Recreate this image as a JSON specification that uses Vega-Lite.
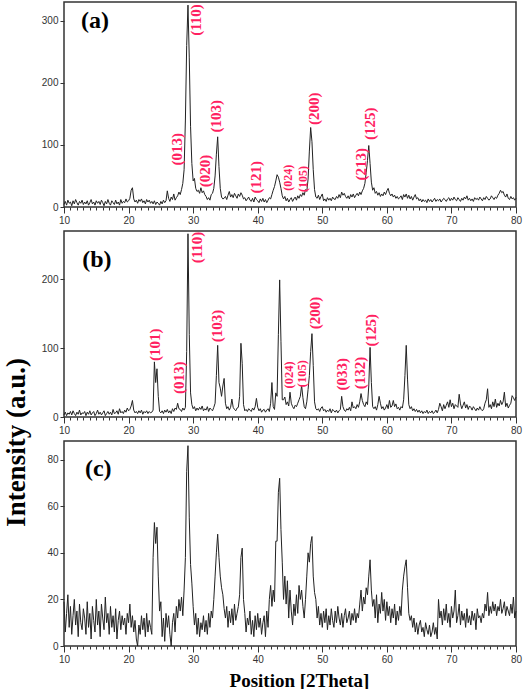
{
"$schema":"https://vega.github.io/schema/vega-lite/v6.json",
"background":"white",
"padding":{"left":1,"top":1,"right":10,"bottom":0},
"config":{
 "font":"Liberation Sans",
 "view":{"stroke":"#333","strokeWidth":1.5},
 "axis":{"grid":false,"domain":false,"labelFont":"Liberation Sans","labelFontSize":10,"labelColor":"#333","tickColor":"#333","tickWidth":1,"labelPadding":2}
},
"datasets":{
"xrd":[
{"t":10,"a":4,"b":3,"c":19},{"t":10.2,"a":9,"b":7,"c":6},{"t":10.4,"a":3,"b":2,"c":14},{"t":10.6,"a":11,"b":6,"c":22},{"t":10.8,"a":6,"b":4,"c":8},
{"t":11,"a":8,"b":8,"c":17},{"t":11.2,"a":2,"b":3,"c":5},{"t":11.4,"a":10,"b":9,"c":13},{"t":11.6,"a":5,"b":5,"c":20},{"t":11.8,"a":12,"b":2,"c":9},
{"t":12,"a":7,"b":7,"c":15},{"t":12.2,"a":3,"b":4,"c":4},{"t":12.4,"a":9,"b":10,"c":18},{"t":12.6,"a":6,"b":3,"c":10},{"t":12.8,"a":11,"b":6,"c":7},
{"t":13,"a":4,"b":5,"c":16},{"t":13.2,"a":8,"b":8,"c":12},{"t":13.4,"a":5,"b":2,"c":5},{"t":13.6,"a":10,"b":7,"c":19},{"t":13.8,"a":3,"b":4,"c":8},
{"t":14,"a":7,"b":9,"c":14},{"t":14.2,"a":12,"b":3,"c":3},{"t":14.4,"a":5,"b":6,"c":17},{"t":14.6,"a":8,"b":8,"c":11},{"t":14.8,"a":3,"b":2,"c":6},
{"t":15,"a":10,"b":5,"c":20},{"t":15.2,"a":6,"b":10,"c":9},{"t":15.4,"a":9,"b":4,"c":15},{"t":15.6,"a":4,"b":7,"c":4},{"t":15.8,"a":11,"b":3,"c":18},
{"t":16,"a":7,"b":6,"c":12},{"t":16.2,"a":2,"b":9,"c":7},{"t":16.4,"a":9,"b":2,"c":21},{"t":16.6,"a":5,"b":5,"c":10},{"t":16.8,"a":12,"b":8,"c":14},
{"t":17,"a":6,"b":4,"c":5},{"t":17.2,"a":3,"b":7,"c":17},{"t":17.4,"a":10,"b":3,"c":8},{"t":17.6,"a":7,"b":11,"c":13},{"t":17.8,"a":4,"b":5,"c":6},
{"t":18,"a":11,"b":6,"c":16},{"t":18.2,"a":5,"b":9,"c":3},{"t":18.4,"a":8,"b":4,"c":11},{"t":18.6,"a":3,"b":12,"c":15},{"t":18.8,"a":12,"b":6,"c":7},
{"t":19,"a":6,"b":8,"c":13},{"t":19.2,"a":9,"b":5,"c":9},{"t":19.4,"a":7,"b":10,"c":12},{"t":19.6,"a":13,"b":7,"c":5},{"t":19.8,"a":8,"b":13,"c":14},
{"t":20,"a":10,"b":9,"c":10},{"t":20.2,"a":14,"b":11,"c":18},{"t":20.4,"a":27,"b":16,"c":8},{"t":20.6,"a":31,"b":24,"c":13},{"t":20.8,"a":13,"b":10,"c":6},
{"t":21,"a":8,"b":6,"c":11},{"t":21.2,"a":11,"b":8,"c":3},{"t":21.4,"a":6,"b":5,"c":0},{"t":21.6,"a":12,"b":9,"c":9},{"t":21.8,"a":9,"b":6,"c":5},
{"t":22,"a":13,"b":10,"c":13},{"t":22.2,"a":7,"b":4,"c":7},{"t":22.4,"a":10,"b":8,"c":12},{"t":22.6,"a":5,"b":6,"c":4},{"t":22.8,"a":12,"b":9,"c":14},
{"t":23,"a":8,"b":5,"c":6},{"t":23.2,"a":11,"b":8,"c":11},{"t":23.4,"a":6,"b":6,"c":8},{"t":23.6,"a":9,"b":7,"c":5},{"t":23.8,"a":5,"b":10,"c":38},
{"t":24,"a":10,"b":80,"c":53},{"t":24.2,"a":4,"b":50,"c":44},{"t":24.4,"a":8,"b":70,"c":51},{"t":24.6,"a":6,"b":30,"c":30},{"t":24.8,"a":3,"b":8,"c":15},
{"t":25,"a":9,"b":6,"c":19},{"t":25.2,"a":5,"b":9,"c":4},{"t":25.4,"a":11,"b":5,"c":12},{"t":25.6,"a":7,"b":10,"c":2},{"t":25.8,"a":10,"b":7,"c":14},
{"t":26,"a":26,"b":11,"c":8},{"t":26.2,"a":14,"b":6,"c":13},{"t":26.4,"a":9,"b":9,"c":5},{"t":26.6,"a":16,"b":5,"c":0},{"t":26.8,"a":12,"b":12,"c":10},
{"t":27,"a":21,"b":8,"c":14},{"t":27.2,"a":11,"b":13,"c":6},{"t":27.4,"a":15,"b":11,"c":17},{"t":27.6,"a":18,"b":20,"c":12},{"t":27.8,"a":24,"b":12,"c":20},
{"t":28,"a":20,"b":11,"c":15},{"t":28.2,"a":28,"b":8,"c":21},{"t":28.4,"a":38,"b":13,"c":13},{"t":28.6,"a":60,"b":10,"c":24},{"t":28.8,"a":140,"b":14,"c":38},
{"t":29,"a":260,"b":95,"c":75},{"t":29.2,"a":325,"b":266,"c":86},{"t":29.4,"a":240,"b":120,"c":55},{"t":29.6,"a":130,"b":35,"c":35},{"t":29.8,"a":70,"b":18,"c":27},
{"t":30,"a":42,"b":12,"c":17},{"t":30.2,"a":46,"b":15,"c":9},{"t":30.4,"a":30,"b":9,"c":14},{"t":30.6,"a":25,"b":13,"c":5},{"t":30.8,"a":27,"b":10,"c":12},
{"t":31,"a":22,"b":14,"c":4},{"t":31.2,"a":31,"b":11,"c":10},{"t":31.4,"a":23,"b":16,"c":7},{"t":31.6,"a":26,"b":9,"c":13},{"t":31.8,"a":20,"b":12,"c":6},
{"t":32,"a":17,"b":10,"c":11},{"t":32.2,"a":12,"b":15,"c":5},{"t":32.4,"a":15,"b":8,"c":14},{"t":32.6,"a":11,"b":13,"c":8},{"t":32.8,"a":20,"b":11,"c":15},
{"t":33,"a":22,"b":9,"c":12},{"t":33.2,"a":30,"b":14,"c":20},{"t":33.4,"a":50,"b":20,"c":30},{"t":33.6,"a":85,"b":60,"c":40},{"t":33.8,"a":113,"b":104,"c":48},
{"t":34,"a":65,"b":50,"c":38},{"t":34.2,"a":30,"b":42,"c":30},{"t":34.4,"a":16,"b":30,"c":25},{"t":34.6,"a":13,"b":45,"c":22},{"t":34.8,"a":14,"b":56,"c":16},
{"t":35,"a":17,"b":20,"c":12},{"t":35.2,"a":12,"b":12,"c":17},{"t":35.4,"a":19,"b":15,"c":8},{"t":35.6,"a":25,"b":10,"c":15},{"t":35.8,"a":16,"b":14,"c":10},
{"t":36,"a":20,"b":26,"c":16},{"t":36.2,"a":15,"b":14,"c":9},{"t":36.4,"a":22,"b":11,"c":18},{"t":36.6,"a":18,"b":9,"c":11},{"t":36.8,"a":14,"b":13,"c":14},
{"t":37,"a":21,"b":14,"c":17},{"t":37.2,"a":17,"b":30,"c":22},{"t":37.4,"a":23,"b":107,"c":38},{"t":37.6,"a":19,"b":78,"c":42},{"t":37.8,"a":13,"b":18,"c":20},
{"t":38,"a":15,"b":9,"c":14},{"t":38.2,"a":10,"b":11,"c":6},{"t":38.4,"a":13,"b":8,"c":12},{"t":38.6,"a":16,"b":12,"c":9},{"t":38.8,"a":11,"b":10,"c":15},
{"t":39,"a":9,"b":8,"c":5},{"t":39.2,"a":14,"b":13,"c":11},{"t":39.4,"a":8,"b":10,"c":4},{"t":39.6,"a":16,"b":15,"c":13},{"t":39.8,"a":12,"b":27,"c":7},
{"t":40,"a":10,"b":14,"c":14},{"t":40.2,"a":7,"b":9,"c":8},{"t":40.4,"a":13,"b":12,"c":12},{"t":40.6,"a":9,"b":7,"c":5},{"t":40.8,"a":14,"b":10,"c":10},
{"t":41,"a":8,"b":11,"c":13},{"t":41.2,"a":12,"b":7,"c":4},{"t":41.4,"a":7,"b":10,"c":15},{"t":41.6,"a":11,"b":12,"c":8},{"t":41.8,"a":15,"b":8,"c":20},
{"t":42,"a":13,"b":20,"c":26},{"t":42.2,"a":20,"b":50,"c":17},{"t":42.4,"a":27,"b":15,"c":24},{"t":42.6,"a":33,"b":11,"c":19},{"t":42.8,"a":42,"b":35,"c":45},
{"t":43,"a":52,"b":30,"c":45},{"t":43.2,"a":48,"b":120,"c":66},{"t":43.4,"a":40,"b":199,"c":72},{"t":43.6,"a":30,"b":110,"c":50},{"t":43.8,"a":18,"b":25,"c":36},
{"t":44,"a":13,"b":25,"c":20},{"t":44.2,"a":17,"b":29,"c":30},{"t":44.4,"a":10,"b":18,"c":18},{"t":44.6,"a":14,"b":22,"c":28},{"t":44.8,"a":8,"b":16,"c":12},
{"t":45,"a":12,"b":36,"c":24},{"t":45.2,"a":15,"b":20,"c":15},{"t":45.4,"a":9,"b":15,"c":9},{"t":45.6,"a":13,"b":12,"c":18},{"t":45.8,"a":16,"b":17,"c":13},
{"t":46,"a":11,"b":15,"c":22},{"t":46.2,"a":18,"b":20,"c":14},{"t":46.4,"a":14,"b":25,"c":26},{"t":46.6,"a":20,"b":30,"c":20},{"t":46.8,"a":17,"b":46,"c":24},
{"t":47,"a":23,"b":28,"c":17},{"t":47.2,"a":19,"b":15,"c":12},{"t":47.4,"a":28,"b":12,"c":20},{"t":47.6,"a":25,"b":22,"c":30},{"t":47.8,"a":45,"b":40,"c":40},
{"t":48,"a":90,"b":60,"c":36},{"t":48.2,"a":128,"b":95,"c":44},{"t":48.4,"a":105,"b":121,"c":47},{"t":48.6,"a":60,"b":75,"c":30},{"t":48.8,"a":28,"b":22,"c":23},
{"t":49,"a":16,"b":12,"c":20},{"t":49.2,"a":14,"b":10,"c":12},{"t":49.4,"a":19,"b":12,"c":17},{"t":49.6,"a":12,"b":8,"c":9},{"t":49.8,"a":17,"b":13,"c":14},
{"t":50,"a":21,"b":15,"c":8},{"t":50.2,"a":10,"b":9,"c":15},{"t":50.4,"a":13,"b":11,"c":10},{"t":50.6,"a":9,"b":7,"c":16},{"t":50.8,"a":15,"b":10,"c":7},
{"t":51,"a":11,"b":8,"c":13},{"t":51.2,"a":14,"b":12,"c":9},{"t":51.4,"a":10,"b":6,"c":16},{"t":51.6,"a":16,"b":11,"c":11},{"t":51.8,"a":13,"b":9,"c":8},
{"t":52,"a":12,"b":7,"c":15},{"t":52.2,"a":17,"b":10,"c":10},{"t":52.4,"a":14,"b":6,"c":17},{"t":52.6,"a":20,"b":9,"c":12},{"t":52.8,"a":15,"b":11,"c":9},
{"t":53,"a":24,"b":30,"c":14},{"t":53.2,"a":19,"b":15,"c":8},{"t":53.4,"a":22,"b":10,"c":13},{"t":53.6,"a":17,"b":8,"c":16},{"t":53.8,"a":14,"b":12,"c":10},
{"t":54,"a":18,"b":10,"c":12},{"t":54.2,"a":13,"b":14,"c":15},{"t":54.4,"a":20,"b":9,"c":9},{"t":54.6,"a":16,"b":22,"c":14},{"t":54.8,"a":21,"b":13,"c":11},
{"t":55,"a":15,"b":15,"c":16},{"t":55.2,"a":19,"b":12,"c":10},{"t":55.4,"a":22,"b":18,"c":14},{"t":55.6,"a":18,"b":14,"c":12},{"t":55.8,"a":24,"b":22,"c":18},
{"t":56,"a":20,"b":34,"c":24},{"t":56.2,"a":26,"b":24,"c":15},{"t":56.4,"a":30,"b":18,"c":21},{"t":56.6,"a":38,"b":15,"c":18},{"t":56.8,"a":55,"b":22,"c":25},
{"t":57,"a":75,"b":18,"c":22},{"t":57.2,"a":99,"b":45,"c":30},{"t":57.4,"a":70,"b":101,"c":37},{"t":57.6,"a":40,"b":50,"c":24},{"t":57.8,"a":27,"b":15,"c":17},
{"t":58,"a":31,"b":12,"c":20},{"t":58.2,"a":22,"b":15,"c":12},{"t":58.4,"a":25,"b":10,"c":22},{"t":58.6,"a":19,"b":18,"c":10},{"t":58.8,"a":23,"b":30,"c":18},
{"t":59,"a":17,"b":20,"c":14},{"t":59.2,"a":21,"b":12,"c":23},{"t":59.4,"a":18,"b":15,"c":15},{"t":59.6,"a":24,"b":10,"c":20},{"t":59.8,"a":20,"b":13,"c":11},
{"t":60,"a":26,"b":18,"c":19},{"t":60.2,"a":30,"b":12,"c":13},{"t":60.4,"a":22,"b":24,"c":17},{"t":60.6,"a":18,"b":14,"c":10},{"t":60.8,"a":21,"b":16,"c":16},
{"t":61,"a":16,"b":24,"c":12},{"t":61.2,"a":19,"b":15,"c":18},{"t":61.4,"a":14,"b":19,"c":9},{"t":61.6,"a":17,"b":12,"c":15},{"t":61.8,"a":13,"b":14,"c":11},
{"t":62,"a":15,"b":10,"c":17},{"t":62.2,"a":18,"b":15,"c":13},{"t":62.4,"a":12,"b":13,"c":24},{"t":62.6,"a":20,"b":25,"c":30},{"t":62.8,"a":16,"b":60,"c":34},
{"t":63,"a":21,"b":104,"c":37},{"t":63.2,"a":14,"b":55,"c":25},{"t":63.4,"a":19,"b":18,"c":14},{"t":63.6,"a":13,"b":12,"c":11},{"t":63.8,"a":17,"b":15,"c":13},
{"t":64,"a":11,"b":9,"c":8},{"t":64.2,"a":16,"b":12,"c":12},{"t":64.4,"a":20,"b":8,"c":6},{"t":64.6,"a":13,"b":11,"c":10},{"t":64.8,"a":15,"b":7,"c":5},
{"t":65,"a":10,"b":10,"c":9},{"t":65.2,"a":13,"b":6,"c":11},{"t":65.4,"a":8,"b":9,"c":6},{"t":65.6,"a":12,"b":5,"c":8},{"t":65.8,"a":9,"b":8,"c":4},
{"t":66,"a":11,"b":6,"c":10},{"t":66.2,"a":7,"b":10,"c":7},{"t":66.4,"a":13,"b":5,"c":5},{"t":66.6,"a":9,"b":8,"c":9},{"t":66.8,"a":12,"b":6,"c":4},
{"t":67,"a":8,"b":9,"c":6},{"t":67.2,"a":11,"b":5,"c":10},{"t":67.4,"a":14,"b":7,"c":5},{"t":67.6,"a":9,"b":10,"c":8},{"t":67.8,"a":12,"b":6,"c":3},
{"t":68,"a":10,"b":11,"c":20},{"t":68.2,"a":13,"b":20,"c":12},{"t":68.4,"a":8,"b":15,"c":15},{"t":68.6,"a":11,"b":9,"c":9},{"t":68.8,"a":14,"b":18,"c":16},
{"t":69,"a":12,"b":12,"c":11},{"t":69.2,"a":9,"b":17,"c":18},{"t":69.4,"a":13,"b":22,"c":10},{"t":69.6,"a":15,"b":14,"c":14},{"t":69.8,"a":10,"b":25,"c":8},
{"t":70,"a":14,"b":15,"c":17},{"t":70.2,"a":11,"b":20,"c":12},{"t":70.4,"a":16,"b":12,"c":15},{"t":70.6,"a":12,"b":18,"c":24},{"t":70.8,"a":10,"b":16,"c":10},
{"t":71,"a":15,"b":14,"c":13},{"t":71.2,"a":12,"b":33,"c":18},{"t":71.4,"a":9,"b":19,"c":9},{"t":71.6,"a":14,"b":12,"c":15},{"t":71.8,"a":11,"b":17,"c":11},
{"t":72,"a":16,"b":22,"c":14},{"t":72.2,"a":13,"b":13,"c":8},{"t":72.4,"a":18,"b":18,"c":16},{"t":72.6,"a":11,"b":11,"c":10},{"t":72.8,"a":14,"b":16,"c":13},
{"t":73,"a":10,"b":14,"c":9},{"t":73.2,"a":13,"b":10,"c":15},{"t":73.4,"a":9,"b":15,"c":11},{"t":73.6,"a":15,"b":12,"c":14},{"t":73.8,"a":12,"b":9,"c":7},
{"t":74,"a":14,"b":13,"c":16},{"t":74.2,"a":11,"b":10,"c":12},{"t":74.4,"a":16,"b":15,"c":13},{"t":74.6,"a":13,"b":11,"c":10},{"t":74.8,"a":10,"b":9,"c":14},
{"t":75,"a":15,"b":12,"c":12},{"t":75.2,"a":12,"b":20,"c":18},{"t":75.4,"a":17,"b":25,"c":15},{"t":75.6,"a":14,"b":41,"c":23},{"t":75.8,"a":11,"b":14,"c":13},
{"t":76,"a":13,"b":18,"c":17},{"t":76.2,"a":18,"b":12,"c":14},{"t":76.4,"a":15,"b":22,"c":19},{"t":76.6,"a":12,"b":15,"c":15},{"t":76.8,"a":16,"b":26,"c":18},
{"t":77,"a":14,"b":14,"c":13},{"t":77.2,"a":19,"b":20,"c":17},{"t":77.4,"a":22,"b":16,"c":15},{"t":77.6,"a":27,"b":24,"c":20},{"t":77.8,"a":23,"b":18,"c":14},
{"t":78,"a":25,"b":22,"c":16},{"t":78.2,"a":19,"b":36,"c":19},{"t":78.4,"a":16,"b":15,"c":13},{"t":78.6,"a":21,"b":20,"c":17},{"t":78.8,"a":14,"b":13,"c":15},
{"t":79,"a":12,"b":17,"c":13},{"t":79.2,"a":17,"b":20,"c":18},{"t":79.4,"a":13,"b":31,"c":14},{"t":79.6,"a":15,"b":28,"c":21},{"t":79.8,"a":11,"b":24,"c":12},
{"t":80,"a":14,"b":29,"c":15}
],
"lab":[
{"panel":"a","t":27.5,"v":93,"label":"(013)"},
{"panel":"a","t":30.45,"v":301,"label":"(110)"},
{"panel":"a","t":31.8,"v":58,"label":"(020)"},
{"panel":"a","t":33.5,"v":146,"label":"(103)"},
{"panel":"a","t":39.7,"v":48,"label":"(121)"},
{"panel":"a","t":44.7,"v":47,"label":"(024)"},
{"panel":"a","t":47.0,"v":45,"label":"(105)"},
{"panel":"a","t":48.7,"v":158,"label":"(200)"},
{"panel":"a","t":56.0,"v":69,"label":"(213)"},
{"panel":"a","t":57.4,"v":134,"label":"(125)"},
{"panel":"b","t":24.1,"v":105,"label":"(101)"},
{"panel":"b","t":27.85,"v":57,"label":"(013)"},
{"panel":"b","t":30.6,"v":246,"label":"(110)"},
{"panel":"b","t":33.75,"v":132,"label":"(103)"},
{"panel":"b","t":44.8,"v":61,"label":"(024)"},
{"panel":"b","t":46.9,"v":63,"label":"(105)"},
{"panel":"b","t":48.8,"v":151,"label":"(200)"},
{"panel":"b","t":53.0,"v":62,"label":"(033)"},
{"panel":"b","t":55.8,"v":64,"label":"(132)"},
{"panel":"b","t":57.5,"v":126,"label":"(125)"}
],
"tag":[
{"panel":"a","t":14.8,"v":300,"tag":"(a)"},
{"panel":"b","t":15.1,"v":228,"tag":"(b)"},
{"panel":"c","t":15.3,"v":76,"tag":"(c)"}
]
},
"spacing":24,
"bounds":"flush",
"vconcat":[
{
"width":452,"height":205,
"resolve":{"axis":{"x":"independent"}},
"layer":[
{"data":{"name":"xrd"},"mark":{"type":"line","color":"#222","strokeWidth":1},
"encoding":{
"x":{"field":"t","type":"quantitative","scale":{"domain":[10,80],"nice":false,"zero":false},"axis":{"title":null,"orient":"bottom","values":[10,20,30,40,50,60,70,80],"tickSize":6,"labelOverlap":false,"labelFlush":false}},
"y":{"field":"a","type":"quantitative","scale":{"domain":[0,330],"nice":false},"axis":{"title":null,"values":[0,100,200,300],"tickSize":4}}}},
{"data":{"name":"lab"},"transform":[{"filter":"datum.panel === 'a' && indexof(['(024)','(105)'], datum.label) < 0"}],
"mark":{"type":"text","angle":270,"font":"Liberation Serif","fontWeight":"bold","fontSize":15,"color":"#FF2060","align":"center","baseline":"middle"},
"encoding":{"x":{"field":"t","type":"quantitative","axis":null},"y":{"field":"v","type":"quantitative"},"text":{"field":"label"}}},
{"data":{"name":"lab"},"transform":[{"filter":"datum.panel === 'a' && indexof(['(024)','(105)'], datum.label) >= 0"}],
"mark":{"type":"text","angle":270,"font":"Liberation Serif","fontWeight":"bold","fontSize":12,"color":"#FF2060","align":"center","baseline":"middle"},
"encoding":{"x":{"field":"t","type":"quantitative","axis":null},"y":{"field":"v","type":"quantitative"},"text":{"field":"label"}}},
{"data":{"name":"tag"},"transform":[{"filter":"datum.panel === 'a'"}],
"mark":{"type":"text","font":"Liberation Serif","fontWeight":"bold","fontSize":24,"color":"#000","align":"center","baseline":"middle"},
"encoding":{"x":{"field":"t","type":"quantitative","axis":{"title":null,"orient":"bottom","labels":false,"tickSize":3,"values":[10,11,12,13,14,15,16,17,18,19,20,21,22,23,24,25,26,27,28,29,30,31,32,33,34,35,36,37,38,39,40,41,42,43,44,45,46,47,48,49,50,51,52,53,54,55,56,57,58,59,60,61,62,63,64,65,66,67,68,69,70,71,72,73,74,75,76,77,78,79,80]}},"y":{"field":"v","type":"quantitative"},"text":{"field":"tag"}}}
]
},
{
"width":452,"height":186,
"resolve":{"axis":{"x":"independent"}},
"layer":[
{"data":{"name":"xrd"},"mark":{"type":"line","color":"#222","strokeWidth":1},
"encoding":{
"x":{"field":"t","type":"quantitative","scale":{"domain":[10,80],"nice":false,"zero":false},"axis":{"title":null,"orient":"bottom","values":[10,20,30,40,50,60,70,80],"tickSize":6,"labelOverlap":false,"labelFlush":false}},
"y":{"field":"b","type":"quantitative","scale":{"domain":[0,270],"nice":false},"axis":{"title":"Intensity (a.u.)","values":[0,100,200],"tickSize":4,"titleFont":"Liberation Serif","titleFontWeight":"bold","titleFontSize":27,"titleColor":"#000","titleAngle":270,"titleAlign":"center","titleBaseline":"alphabetic","titleX":-40,"titleY":211}}}},
{"data":{"name":"lab"},"transform":[{"filter":"datum.panel === 'b' && indexof(['(024)','(105)'], datum.label) < 0"}],
"mark":{"type":"text","angle":270,"font":"Liberation Serif","fontWeight":"bold","fontSize":15,"color":"#FF2060","align":"center","baseline":"middle"},
"encoding":{"x":{"field":"t","type":"quantitative","axis":null},"y":{"field":"v","type":"quantitative"},"text":{"field":"label"}}},
{"data":{"name":"lab"},"transform":[{"filter":"datum.panel === 'b' && indexof(['(024)','(105)'], datum.label) >= 0"}],
"mark":{"type":"text","angle":270,"font":"Liberation Serif","fontWeight":"bold","fontSize":12.5,"color":"#FF2060","align":"center","baseline":"middle"},
"encoding":{"x":{"field":"t","type":"quantitative","axis":null},"y":{"field":"v","type":"quantitative"},"text":{"field":"label"}}},
{"data":{"name":"tag"},"transform":[{"filter":"datum.panel === 'b'"}],
"mark":{"type":"text","font":"Liberation Serif","fontWeight":"bold","fontSize":24,"color":"#000","align":"center","baseline":"middle"},
"encoding":{"x":{"field":"t","type":"quantitative","axis":{"title":null,"orient":"bottom","labels":false,"tickSize":3,"values":[10,11,12,13,14,15,16,17,18,19,20,21,22,23,24,25,26,27,28,29,30,31,32,33,34,35,36,37,38,39,40,41,42,43,44,45,46,47,48,49,50,51,52,53,54,55,56,57,58,59,60,61,62,63,64,65,66,67,68,69,70,71,72,73,74,75,76,77,78,79,80]}},"y":{"field":"v","type":"quantitative"},"text":{"field":"tag"}}}
]
},
{
"width":452,"height":205,
"resolve":{"axis":{"x":"independent"}},
"layer":[
{"data":{"name":"xrd"},"mark":{"type":"line","color":"#222","strokeWidth":1},
"encoding":{
"x":{"field":"t","type":"quantitative","scale":{"domain":[10,80],"nice":false,"zero":false},"axis":{"title":"Position [2Theta]","orient":"bottom","titleFont":"Liberation Serif","titleFontWeight":"bold","titleFontSize":19,"titleColor":"#000","titleAlign":"center","titleBaseline":"alphabetic","titleX":235,"titleY":40,"values":[10,20,30,40,50,60,70,80],"tickSize":6,"labelOverlap":false,"labelFlush":false}},
"y":{"field":"c","type":"quantitative","scale":{"domain":[0,88],"nice":false},"axis":{"title":null,"values":[0,20,40,60,80],"tickSize":4}}}},
{"data":{"name":"tag"},"transform":[{"filter":"datum.panel === 'c'"}],
"mark":{"type":"text","font":"Liberation Serif","fontWeight":"bold","fontSize":24,"color":"#000","align":"center","baseline":"middle"},
"encoding":{"x":{"field":"t","type":"quantitative","axis":{"title":null,"orient":"bottom","labels":false,"tickSize":3,"values":[10,11,12,13,14,15,16,17,18,19,20,21,22,23,24,25,26,27,28,29,30,31,32,33,34,35,36,37,38,39,40,41,42,43,44,45,46,47,48,49,50,51,52,53,54,55,56,57,58,59,60,61,62,63,64,65,66,67,68,69,70,71,72,73,74,75,76,77,78,79,80]}},"y":{"field":"v","type":"quantitative"},"text":{"field":"tag"}}}
]
}
]
}
